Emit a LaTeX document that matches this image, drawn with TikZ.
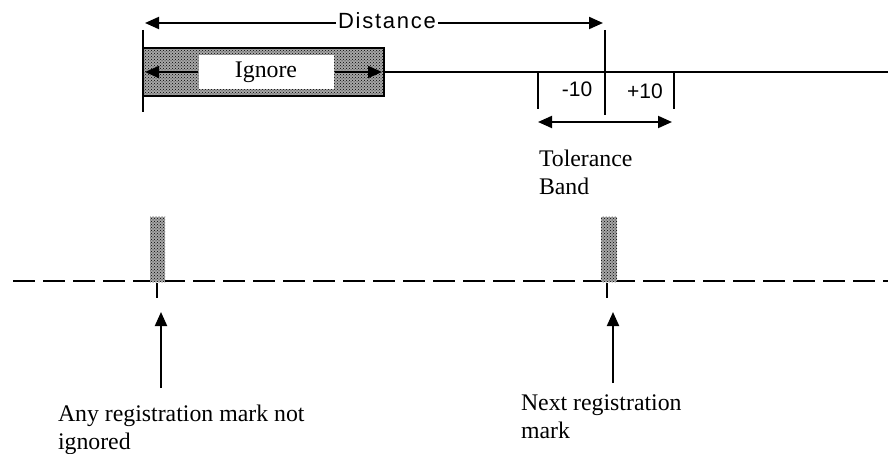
\documentclass[tikz,border=0pt]{standalone}
\usepackage{fontspec}
\setmainfont{Liberation Serif}
\newfontfamily\labelsans{Liberation Sans}
\usetikzlibrary{arrows.meta,patterns,positioning}
\tikzset{
  dotzone/.style={draw,fill=black!35,postaction={pattern=crosshatch dots,pattern color=black},inner sep=0pt},
  serifl/.style={font=\fontsize{23.8}{27.5}\selectfont,inner sep=0pt,align=left,anchor=north west},
  sansl/.style={font=\labelsans\fontsize{21}{24}\selectfont,inner sep=1pt}
}

\begin{document}
\begin{tikzpicture}[x=1pt,y=-1pt,>={Triangle[length=14pt,width=12pt]},line width=2pt]
\useasboundingbox (0,0) rectangle (888,454);
% distance between marks
\node[sansl,font=\labelsans\addfontfeature{LetterSpace=8}\fontsize{22}{24}\selectfont] (dist) at (387,21) {Distance};
\coordinate (dl) at (145,23); \coordinate (dr) at (603,23);
\draw[->] (dist.west|-dl) -- (dl);
\draw[->] (dist.east|-dr) -- (dr);
\coordinate (lt) at (143,30); \coordinate (lb) at (143,112);
\draw (lt) -- (lb);
% ignore zone
\node[dotzone,minimum width=241pt,minimum height=48pt] (zone) at (263.5,72) {};
\node[fill=white,minimum width=135pt,minimum height=34pt,font=\fontsize{23.8}{27}\selectfont] (ign) at (266,72) {Ignore};
\draw[->] (ign.west) -- ([xshift=3pt]zone.west);
\draw[->] (ign.east) -- ([xshift=-3pt]zone.east);
\coordinate (re) at (888,72);
\draw (zone.east) -- (re);
% tolerance band
\coordinate (nt) at (605,30); \coordinate (nb) at (605,115);
\draw (nt) -- (nb);
\coordinate (t1) at (538,72); \coordinate (t1b) at (538,109);
\coordinate (t2) at (674,72); \coordinate (t2b) at (674,109);
\draw (t1) -- (t1b); \draw (t2) -- (t2b);
\node[sansl] (minus) at (577,89) {-10};
\node[sansl] (plus) at (645,91) {+10};
\coordinate (bl) at (538,122); \coordinate (br) at (672,122);
\draw[<->] (bl) -- (br);
\node[serifl] (tol) at (538,149) {Tolerance\\Band};
% web with registration marks
\coordinate (wl) at (13,281); \coordinate (wr) at (888,281);
\draw[dash pattern=on 22pt off 8pt] (wl) -- (wr);
\node[dotzone,draw=none,minimum width=15pt,minimum height=65pt] (m1) at (157.5,249.5) {};
\node[dotzone,draw=none,minimum width=16pt,minimum height=65pt] (m2) at (609,249.5) {};
\coordinate (s1) at (157,298); \coordinate (s2) at (607,298);
\draw (m1.south-|s1) -- (s1);
\draw (m2.south-|s2) -- (s2);
% pointers
\coordinate (p1) at (161,388); \coordinate (q1) at (161,312);
\coordinate (p2) at (613,383); \coordinate (q2) at (613,312);
\draw[->] (p1) -- (q1);
\draw[->] (p2) -- (q2);
\node[serifl] (anyl) at (57,404) {Any registration mark not\\ignored};
\node[serifl] (nextl) at (520,394) {Next registration\\mark};
\end{tikzpicture}
\end{document}
